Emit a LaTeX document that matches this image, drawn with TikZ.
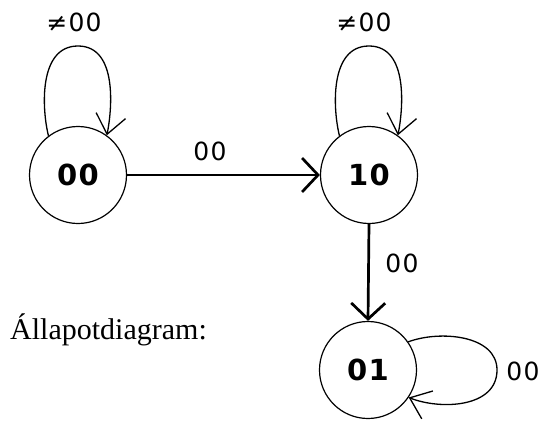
\documentclass[tikz,border=0pt]{standalone}
\usepackage{fontspec}
\setmainfont{Liberation Serif}
\newfontfamily\labelfont[LetterSpace=5]{DejaVu Sans}
\usetikzlibrary{arrows.meta}
\begin{document}
\begin{tikzpicture}[x=1pt,y=-1pt,
  state/.style={draw,circle,line width=1.2pt,minimum size=97pt,inner sep=0pt,
    font=\labelfont\bfseries\fontsize{29}{29}\selectfont},
  edgelabel/.style={font=\labelfont\fontsize{25}{25}\selectfont,inner sep=0pt},
  mainarrow/.style={line width=2.7pt,-{Straight Barb[length=16pt,width=34pt]}},
  looparrow/.style={line width=1.3pt,-{Straight Barb[length=19pt,width=30pt]}}]
\useasboundingbox (0,0) rectangle (551,420);

% states
\node[state] (s00) at (78,175) {00};
\node[state] (s10) at (369,175) {10};
\node[state] (s01) at (368,370) {01};

% transitions between states
\draw[mainarrow] (s00) -- (s10);
\draw[mainarrow] (s10.south) -- (s01.north);

% self-loops
\draw[looparrow] (s00.127) .. controls (42,110) and (38,46) .. (78,46)
  .. controls (118,46) and (112,110) .. (s00.54);
\draw[looparrow] (s10.127) .. controls (333,110) and (329,46) .. (369,46)
  .. controls (409,46) and (403,110) .. (s10.54);
\draw[looparrow] (s01.35) .. controls (440,330) and (497,335) .. (497,370)
  .. controls (497,408) and (440,410) .. (s01.-34);

% transition labels
\node[edgelabel] (l1) at (74,22) {≠00};
\node[edgelabel] (l2) at (364,22) {≠00};
\node[edgelabel] (l3) at (210,151) {00};
\node[edgelabel] (l4) at (402,263) {00};
\node[edgelabel] (l5) at (523,371) {00};

% caption
\node[anchor=base west,inner sep=0pt,font=\fontsize{30}{30}\selectfont] (cap) at (10,339) {Állapotdiagram:};
\end{tikzpicture}
\end{document}
